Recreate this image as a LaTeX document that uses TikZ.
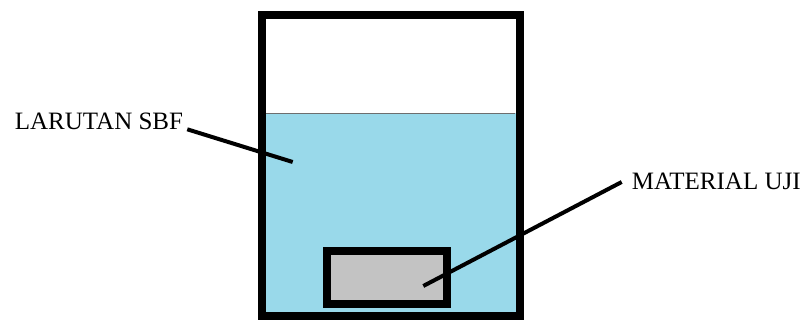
\documentclass[tikz,border=0pt]{standalone}
\usepackage{fontspec}
\setmainfont{Liberation Serif}
\newfontfamily\labelfont{Liberation Serif}
\usetikzlibrary{positioning}
\definecolor{sbfblue}{RGB}{153,217,234}
\definecolor{samplegray}{RGB}{195,195,195}
\definecolor{rimgray}{RGB}{110,110,110}
\tikzset{
  wall/.style={draw=black, line width=8pt},
  sample/.style={draw=black, line width=8pt, fill=samplegray, inner sep=0pt},
  lbl/.style={font=\labelfont\fontsize{25}{30}\selectfont, text=black, inner sep=0pt, anchor=base west},
  lead/.style={draw=black, line width=4pt},
}
\begin{document}
\begin{tikzpicture}[x=1pt, y=-1pt]
  \useasboundingbox (0,0) rectangle (809,320);
  % liquid
  \fill[sbfblue] (261.5,113) rectangle (519.5,316);
  \draw[rimgray, line width=0.8pt] (266,113) -- (515,113);
  % beaker
  \draw[wall] (261.5,15) rectangle (519.5,316);
  % sample
  \node[sample, minimum width=120.6pt, minimum height=52.7pt] (uji) at (387,277.3) {};
  % labels
  \node[lbl] (sbf) at (14.7,129.3) {LARUTAN SBF};
  \node[lbl] (matlbl) at (631.7,190) {MATERIAL UJI};
  \coordinate (liq) at (292.7,162);
  \coordinate (probe) at (423.3,286);
  \draw[lead] ([xshift=4pt]sbf.base east) -- (liq);
  \draw[lead] ([xshift=-10pt, yshift=8pt]matlbl.base west) -- (probe);
\end{tikzpicture}
\end{document}
